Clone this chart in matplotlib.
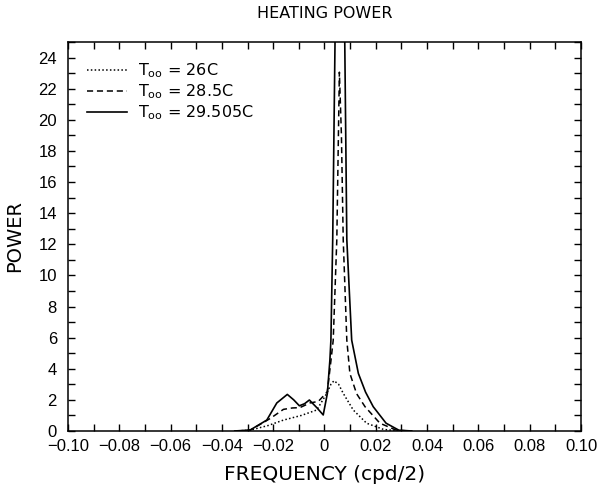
import matplotlib
matplotlib.use("Agg")
import matplotlib.pyplot as plt
from matplotlib.ticker import MultipleLocator, FuncFormatter

# T = 29.505C (solid, peak runs off the top)
freq_c = [-0.035, -0.029, -0.0225, -0.0186, -0.0145, -0.012, -0.0098, -0.0078, -0.0059,
          -0.003, -0.0005, 0.0011, 0.0021, 0.0025, 0.0032, 0.0041, 0.005, 0.006, 0.007,
          0.0079, 0.0087, 0.0106, 0.0132, 0.016, 0.019, 0.024, 0.029, 0.034]
power_c = [0, 0.06, 0.7, 1.8, 2.35, 2.0, 1.62, 1.75, 1.99,
           1.5, 1.03, 2.4, 4.55, 5.84, 12.3, 25, 45, 60, 45,
           25, 12.3, 5.84, 3.7, 2.5, 1.56, 0.5, 0.05, 0]

# T = 28.5C (dashed)
freq_b = [-0.034, -0.029, -0.0212, -0.016, -0.0125, -0.0096, -0.0057, -0.0024, 0.0011,
          0.0025, 0.0034, 0.0048, 0.0058, 0.0066, 0.0073, 0.0087, 0.0099, 0.0125,
          0.0158, 0.0216, 0.028, 0.033]
power_b = [0, 0.05, 0.8, 1.39, 1.48, 1.5, 1.8, 1.9, 2.52,
           4.5, 5.84, 12.3, 23.06, 19, 12.3, 5.84, 3.7, 2.4,
           1.56, 0.5, 0.05, 0]

# T = 26C (dotted)
freq_a = [-0.034, -0.029, -0.022, -0.016, -0.009, -0.003, 0.0009, 0.0025, 0.0037,
          0.0055, 0.0073, 0.0112, 0.0164, 0.023, 0.028, 0.033]
power_a = [0, 0.05, 0.35, 0.7, 1.0, 1.35, 2.42, 3.0, 3.23,
           3.0, 2.42, 1.35, 0.5, 0.1, 0.02, 0]

labels = [r"T$_{\mathrm{oo}}$ = 26C", r"T$_{\mathrm{oo}}$ = 28.5C", r"T$_{\mathrm{oo}}$ = 29.505C"]

fig = plt.figure(figsize=(5.97, 4.93), dpi=100)
ax = fig.add_axes([0.1139, 0.1258, 0.8593, 0.789])

ax.plot(freq_a, power_a, color="black", lw=1.1, linestyle=(0, (1, 1.5)), label=labels[0])
ax.plot(freq_b, power_b, color="black", lw=1.1, linestyle=(0, (4, 2.5)), label=labels[1])
ax.plot(freq_c, power_c, color="black", lw=1.2, linestyle="-", label=labels[2])

ax.set_xlim(-0.1, 0.1)
ax.set_ylim(0, 25)
ax.xaxis.set_major_locator(MultipleLocator(0.02))
ax.xaxis.set_minor_locator(MultipleLocator(0.01))
ax.yaxis.set_major_locator(MultipleLocator(2))
ax.yaxis.set_minor_locator(MultipleLocator(1))

def xfmt(v, pos):
    if abs(v) < 1e-9:
        return "0"
    return ("\u2212" if v < 0 else "") + "%.2f" % abs(v)

ax.xaxis.set_major_formatter(FuncFormatter(xfmt))
ax.tick_params(which="both", direction="in", top=True, right=True, length=5, width=1)
ax.tick_params(axis="x", pad=6)
ax.tick_params(axis="y", pad=8)
for lab in ax.get_xticklabels() + ax.get_yticklabels():
    lab.set_fontfamily("Liberation Sans")
    lab.set_fontsize(12)
for s in ax.spines.values():
    s.set_linewidth(1.1)

ax.set_title("HEATING POWER", fontsize=11.5, pad=17)
ax.set_xlabel("FREQUENCY (cpd/2)", fontsize=14.5, labelpad=8)
ax.set_ylabel("POWER", fontsize=14, labelpad=10)

ax.legend(loc="upper left", frameon=False, fontsize=11.5, handlelength=2.5,
          handletextpad=0.7, borderaxespad=0.8, labelspacing=0.15)

plt.savefig("out.png", dpi=100)
plt.close()
